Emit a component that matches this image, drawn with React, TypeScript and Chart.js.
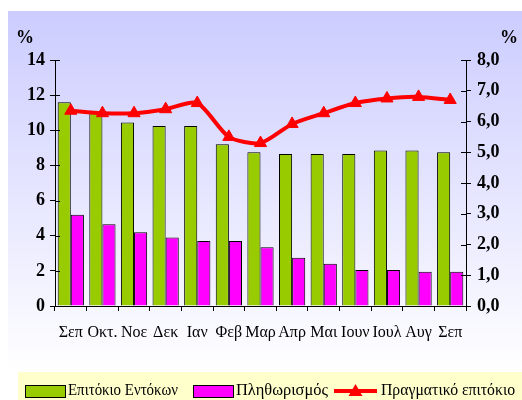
import React, { useEffect, useRef } from "react";
import { Chart, registerables } from "chart.js";

Chart.register(...registerables);

const months = ["Σεπ", "Οκτ.", "Νοε", "Δεκ", "Ιαν", "Φεβ", "Μαρ", "Απρ", "Μαι", "Ιουν", "Ιουλ", "Αυγ", "Σεπ"];
const tBillRate = [11.6, 11.0, 10.45, 10.25, 10.25, 9.2, 8.75, 8.65, 8.65, 8.65, 8.85, 8.85, 8.75];
const inflation = [5.2, 4.65, 4.2, 3.9, 3.7, 3.7, 3.35, 2.75, 2.4, 2.05, 2.05, 1.95, 1.95];
const realRate = [6.35, 6.27, 6.27, 6.4, 6.6, 5.5, 5.3, 5.92, 6.27, 6.6, 6.75, 6.8, 6.7];
const seriesNames = ["Επιτόκιο Εντόκων", "Πληθωρισμός", "Πραγματικό επιτόκιο"];
const axisUnit = "%";

const GREEN = "#99cc00";
const MAGENTA = "#ff00ff";
const RED = "#ff0000";
const SERIF = "'Liberation Serif', 'Times New Roman', serif";

// legend layout: [marker x, text x, text max width]
const legendSlots = [
  [25, 68, 110],
  [193, 236, 92],
  [334, 381, 134],
];

const decor = {
  id: "decor",
  beforeDraw(chart: any) {
    const ctx = chart.ctx;
    ctx.save();
    ctx.fillStyle = "#ffffff";
    ctx.fillRect(0, 0, chart.width, chart.height);
    const g = ctx.createLinearGradient(0, 11, 0, 372);
    g.addColorStop(0, "#ccccff");
    g.addColorStop(1, "#ffffff");
    ctx.fillStyle = g;
    ctx.fillRect(8, 11, chart.width - 8, chart.height - 11);
    ctx.fillStyle = "#ffffcc";
    ctx.fillRect(18, 372, chart.width - 18, chart.height - 372);
    ctx.restore();
  },
  afterDraw(chart: any) {
    const ctx = chart.ctx;
    ctx.save();
    ctx.strokeStyle = "#000";
    ctx.lineWidth = 1;
    const yl = chart.scales.y;
    const yr = chart.scales.y2;
    ctx.beginPath();
    yl.ticks.forEach((_t: any, i: number) => {
      const p = Math.round(yl.getPixelForTick(i)) + 0.5;
      ctx.moveTo(yl.right, p);
      ctx.lineTo(yl.right + 5, p);
    });
    yr.ticks.forEach((_t: any, i: number) => {
      const p = Math.round(yr.getPixelForTick(i)) + 0.5;
      ctx.moveTo(yr.left - 5, p);
      ctx.lineTo(yr.left, p);
    });
    ctx.stroke();

    ctx.fillStyle = "#000";
    ctx.font = `bold 18px ${SERIF}`;
    ctx.textBaseline = "middle";
    ctx.textAlign = "left";
    ctx.fillText(axisUnit, 16, 38);
    ctx.fillText(axisUnit, 500, 38);

    const cy = 391;
    ctx.font = `17px ${SERIF}`;
    chart.data.datasets.forEach((ds: any, i: number) => {
      const [mx, tx, tw] = legendSlots[i];
      if (ds.type === "line") {
        ctx.strokeStyle = ds.borderColor;
        ctx.lineWidth = 4;
        ctx.beginPath();
        ctx.moveTo(mx, cy);
        ctx.lineTo(mx + 43, cy);
        ctx.stroke();
        ctx.fillStyle = ds.borderColor;
        ctx.beginPath();
        ctx.moveTo(mx + 21.5, cy - 7);
        ctx.lineTo(mx + 28.5, cy + 5);
        ctx.lineTo(mx + 14.5, cy + 5);
        ctx.closePath();
        ctx.fill();
      } else {
        ctx.fillStyle = ds.backgroundColor;
        ctx.fillRect(mx, cy - 6, 40, 12);
        ctx.strokeStyle = "#000";
        ctx.lineWidth = 1;
        ctx.strokeRect(mx + 0.5, cy - 5.5, 40, 12);
      }
      ctx.fillStyle = "#000";
      ctx.fillText(ds.label, tx, cy, tw);
    });
    ctx.restore();
  },
};

export default function App() {
  const ref = useRef<HTMLCanvasElement>(null);
  useEffect(() => {
    const canvas = ref.current!;
    const chart = new Chart(canvas, {
      type: "bar",
      data: {
        labels: months,
        datasets: [
          {
            type: "bar",
            label: seriesNames[0],
            data: tBillRate,
            yAxisID: "y",
            backgroundColor: GREEN,
            borderColor: "#000",
            borderWidth: 1,
            order: 1,
          },
          {
            type: "bar",
            label: seriesNames[1],
            data: inflation,
            yAxisID: "y",
            backgroundColor: MAGENTA,
            borderColor: "#000",
            borderWidth: 1,
            order: 2,
          },
          {
            type: "line",
            label: seriesNames[2],
            data: realRate,
            yAxisID: "y2",
            borderColor: RED,
            backgroundColor: RED,
            borderWidth: 4,
            tension: 0.25,
            pointStyle: "triangle",
            pointRadius: 7,
            pointBackgroundColor: RED,
            pointBorderColor: RED,
            pointBorderWidth: 1,
            order: 0,
          } as any,
        ],
      },
      options: {
        responsive: false,
        animation: false,
        devicePixelRatio: 1,
        layout: { padding: { top: 60, left: 0, right: 0, bottom: 0 } },
        datasets: { bar: { barPercentage: 1, categoryPercentage: 0.83 } },
        plugins: { legend: { display: false }, tooltip: { enabled: false } },
        scales: {
          x: {
            grid: { drawOnChartArea: false, offset: true, color: "#000", tickLength: 5 },
            border: { color: "#000" },
            ticks: { color: "#000", font: { family: SERIF, size: 16 }, padding: 12, maxRotation: 0, autoSkip: false },
            afterFit(s: any) { s.height = 94; },
          },
          y: {
            position: "left",
            min: 0,
            max: 14,
            ticks: { stepSize: 2, color: "#000", font: { family: SERIF, size: 18, weight: "bold" }, padding: 5 },
            grid: { drawOnChartArea: false, color: "#000", tickLength: 5 },
            border: { color: "#000" },
            afterFit(s: any) { s.width = 55; },
          },
          y2: {
            position: "right",
            min: 0,
            max: 8,
            ticks: {
              stepSize: 1,
              color: "#000",
              font: { family: SERIF, size: 18, weight: "bold" },
              padding: 6,
              callback: (v: any) => Number(v).toFixed(1).replace(".", ","),
            },
            grid: { drawOnChartArea: false, color: "#000", tickLength: 5 },
            border: { color: "#000" },
            afterFit(s: any) { s.width = 56; },
          },
        },
      },
      plugins: [decor],
    });
    return () => chart.destroy();
  }, []);
  return (
    <canvas
      ref={ref}
      width={522}
      height={400}
      style={{ position: "fixed", left: 0, top: 0, width: 522, height: 400 }}
    />
  );
}
